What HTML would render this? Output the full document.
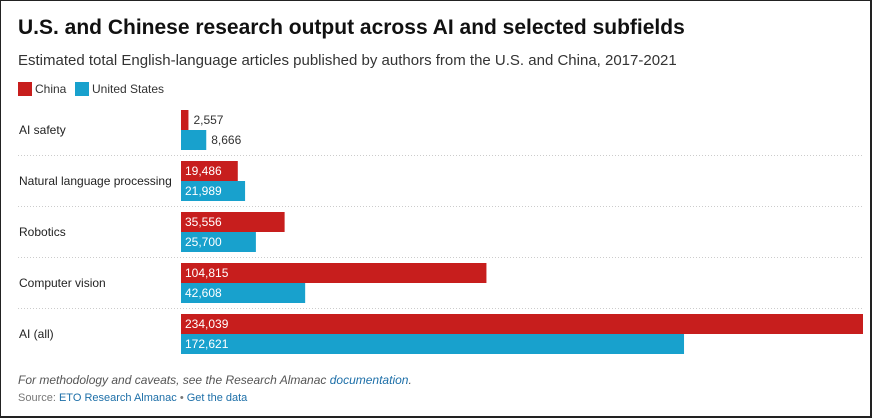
<!DOCTYPE html>
<html><head><meta charset="utf-8"><style>
body{margin:0;width:873px;height:419px;overflow:hidden;background:#fff;font-family:"Liberation Sans",sans-serif}
#frame{position:absolute;left:0;top:0;width:869px;height:415px;border:2px solid #222;border-width:1px 2px 2px 1px}
.t{position:absolute;white-space:nowrap}
</style></head><body>
<div id="frame"></div>
<div class="t" style="left:18px;top:16px;font-size:21px;font-weight:bold;color:#111">U.S. and Chinese research output across AI and selected subfields</div>
<div class="t" style="left:18px;top:52px;font-size:15px;color:#333">Estimated total English-language articles published by authors from the U.S. and China, 2017-2021</div>
<div class="t" style="left:18px;top:82px;font-size:12px;color:#333"><span style="display:inline-block;width:14px;height:14px;background:#c71e1d;vertical-align:-3px;margin-right:3px"></span>China</div>
<div class="t" style="left:75px;top:82px;font-size:12px;color:#333"><span style="display:inline-block;width:14px;height:14px;background:#18a1cd;vertical-align:-3px;margin-right:3px"></span>United States</div>
<svg id="chart" width="873" height="419" style="position:absolute;left:0;top:0"></svg>
<div class="t" style="left:18px;top:373px;font-size:12px;font-style:italic;color:#555">For methodology and caveats, see the Research Almanac <span style="color:#1d6fa8">documentation</span>.</div>
<div class="t" style="left:18px;top:392px;font-size:11px;color:#777">Source: <span style="color:#1d6fa8">ETO Research Almanac</span> • <span style="color:#1d6fa8">Get the data</span></div>
<script>
const categories=["AI safety","Natural language processing","Robotics","Computer vision","AI (all)"];
const china=[2557,19486,35556,104815,234039];
const us=[8666,21989,25700,42608,172621];
const svg=document.getElementById('chart');
const NS="http://www.w3.org/2000/svg";
const x0=181,maxW=682,maxV=234039;
const xs=v=>v/maxV*maxW;
const rowY=i=>110+i*51;
function mk(t,a){const e=document.createElementNS(NS,t);for(const k in a)e.setAttribute(k,a[k]);svg.appendChild(e);return e;}
const fmt=v=>v.toLocaleString('en-US');
categories.forEach((c,i)=>{
  const y=rowY(i);
  const lab=mk('text',{x:19,y:y+24,'font-size':12,fill:'#222'});lab.textContent=c;
  
  
  if(i>0){const l=mk('line',{x1:18,x2:863,y1:y-5.5,y2:y-5.5,stroke:'#ccc','stroke-dasharray':'1,2'});
    
    }
  [[china,'#c71e1d',0,'bar-china'],[us,'#18a1cd',20,'bar-us']].forEach(([arr,col,off,nm])=>{
    const w=xs(arr[i]);
    const r=mk('rect',{x:x0,y:y+off,width:w,height:20,fill:col});
    
    
    const inside=w>50;
    const t=mk('text',{x:inside?x0+4:x0+w+5,y:y+off+14,'font-size':12,fill:inside?'#fff':'#333'});
    t.textContent=fmt(arr[i]);
    
    
  });
});
</script>
</body></html>
